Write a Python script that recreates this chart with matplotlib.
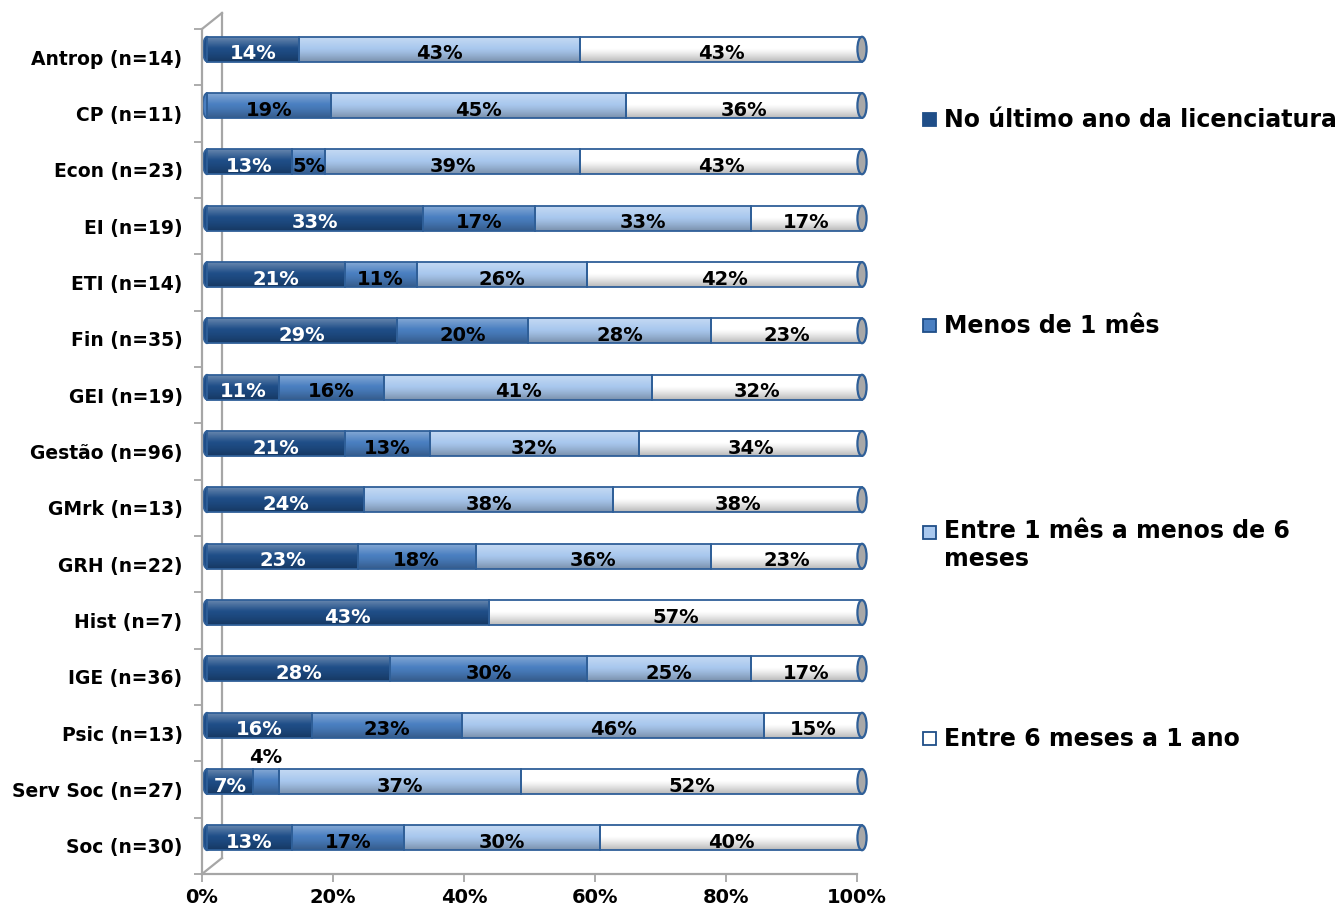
import numpy as np
import matplotlib
matplotlib.use("Agg")
import matplotlib.pyplot as plt
from matplotlib.patches import Rectangle, Ellipse
from matplotlib.lines import Line2D
from matplotlib import transforms

categories = ["Antrop (n=14)", "CP (n=11)", "Econ (n=23)", "EI (n=19)", "ETI (n=14)",
              "Fin (n=35)", "GEI (n=19)", "Gestão (n=96)", "GMrk (n=13)", "GRH (n=22)",
              "Hist (n=7)", "IGE (n=36)", "Psic (n=13)", "Serv Soc (n=27)", "Soc (n=30)"]
series_names = ["No último ano da licenciatura", "Menos de 1 mês",
                "Entre 1 mês a menos de 6\nmeses", "Entre 6 meses a 1 ano"]
ultimo_ano = [14, 0, 13, 33, 21, 29, 11, 21, 24, 23, 43, 28, 16, 7, 13]
menos_1_mes = [0, 19, 5, 17, 11, 20, 16, 13, 0, 18, 0, 30, 23, 4, 17]
entre_1_6 = [43, 45, 39, 33, 26, 28, 41, 32, 38, 36, 0, 25, 46, 37, 30]
entre_6_12 = [43, 36, 43, 17, 42, 23, 32, 34, 38, 23, 57, 17, 15, 52, 40]
xticks = [0, 20, 40, 60, 80, 100]
xtick_labels = ["0%", "20%", "40%", "60%", "80%", "100%"]

colors = ["#1f4e88", "#4a7fc1", "#a9c8ee", "#ffffff"]
label_colors = ["white", "black", "black", "black"]
edge = "#2f5f98"
axis_gray = "#a6a6a6"

plt.rcParams['font.family'] = ['DejaVu Sans']
W, H = 1341, 910
fig = plt.figure(figsize=(W / 100, H / 100), dpi=100)
ax = fig.add_axes([202 / W, 1 - 874 / H, 655 / W, 845 / H])
n = len(categories)
y = np.arange(n)

bar_tr = transforms.offset_copy(ax.transData, fig=fig, x=5, y=8, units='dots')
h = 0.44
data = [ultimo_ano, menos_1_mes, entre_1_6, entre_6_12]
totals = np.sum(np.array(data, float), axis=0)

# gradient image for cylinder shading
tgrad = np.linspace(0, 1, 64)
grad = np.zeros((64, 1, 4))
for j, t in enumerate(tgrad):
    if t < 0.45:
        a = 0.32 * (1 - t / 0.45)
        grad[j, 0] = [1, 1, 1, a]
    else:
        a = 0.28 * ((t - 0.45) / 0.55) ** 1.2
        grad[j, 0] = [0, 0, 0, a]

lab_fs = 14
left = np.zeros(n)
for k, vals in enumerate(data):
    v = np.array(vals, float)
    w = v / totals * 100
    ax.barh(y, w, left=left, height=h, color=colors[k], edgecolor='none',
            transform=bar_tr, zorder=3, clip_on=False)
    ax.barh(y, w, left=left, height=h, color='none', edgecolor=edge,
            linewidth=1.3, transform=bar_tr, zorder=5, clip_on=False)
    for i in range(n):
        if v[i] <= 0:
            continue
        cx = left[i] + w[i] / 2
        if v[i] < 5:
            ax.text(cx, y[i] - 0.43, f"{v[i]:.0f}%", transform=bar_tr, ha='center',
                    va='center', fontsize=lab_fs, fontweight='bold', color='black', zorder=7)
        else:
            ax.text(cx, y[i] + 0.08, f"{v[i]:.0f}%", transform=bar_tr, ha='center',
                    va='center', fontsize=lab_fs, fontweight='bold', color=label_colors[k],
                    zorder=7)
    left += w

for i in range(n):
    clip = Rectangle((0, y[i] - h / 2), 100, h, transform=bar_tr, facecolor='none',
                     edgecolor='none')
    ax.add_patch(clip)
    im = ax.imshow(grad, extent=(0, 100, y[i] + h / 2, y[i] - h / 2), aspect='auto',
                   transform=bar_tr, zorder=4, interpolation='bilinear')
    im.set_clip_path(clip)
    first = next(k for k in range(4) if data[k][i] > 0)
    ax.add_patch(Ellipse((0, y[i]), 1.3, h, transform=bar_tr, facecolor=colors[first],
                         edgecolor=edge, linewidth=1.3, zorder=2, clip_on=False))
    ax.add_patch(Ellipse((100, y[i]), 1.4, h, transform=bar_tr, facecolor="#a8a8a8",
                         edgecolor=edge, linewidth=1.6, zorder=6, clip_on=False))

ax.set_xlim(0, 100)
ax.set_ylim(n - 0.5, -0.5)
ax.set_facecolor('none')

for s in ['top', 'right']:
    ax.spines[s].set_visible(False)
for s in ['left', 'bottom']:
    ax.spines[s].set_color(axis_gray)
    ax.spines[s].set_linewidth(1.6)

ax.set_yticks(y)
ax.set_yticklabels(categories, fontsize=13.5, fontweight='bold')
ax.set_yticks(np.arange(-0.5, n, 1), minor=True)
ax.tick_params(axis='y', which='major', length=0, pad=14)
ax.tick_params(axis='y', which='minor', length=6, color=axis_gray, width=1.3)
ax.set_xticks(xticks)
ax.set_xticklabels(xtick_labels, fontsize=14, fontweight='bold')
ax.tick_params(axis='x', length=6, color=axis_gray, width=1.3, pad=4)

# 3D back wall lines
back_tr = transforms.offset_copy(ax.transAxes, fig=fig, x=20, y=16, units='dots')
ax.plot([0, 0], [0, 1], transform=back_tr, color=axis_gray, lw=1.6, zorder=1, clip_on=False)
fig.canvas.draw()
p_top = ax.transAxes.transform((0, 1))
p_bot = ax.transAxes.transform((0, 0))
for p in (p_top, p_bot):
    ax.add_line(Line2D([p[0], p[0] + 20], [p[1], p[1] + 16],
                       transform=transforms.IdentityTransform(),
                       color=axis_gray, lw=1.6, zorder=1, clip_on=False))

# legend
leg_fs = 17
leg_y = [120, 326, 533, 739]
for k in range(4):
    yy = 1 - leg_y[k] / H
    fig.add_artist(Rectangle((923 / W, yy - 6 / H), 13 / W, 13 / H, transform=fig.transFigure,
                             facecolor=colors[k], edgecolor="#1f4e88", linewidth=1.3))
    if '\n' in series_names[k]:
        fig.text(944 / W, yy + 14 / H, series_names[k], ha='left', va='top', fontsize=leg_fs,
                 fontweight='bold', linespacing=1.2)
    else:
        fig.text(944 / W, yy, series_names[k], ha='left', va='center', fontsize=leg_fs,
                 fontweight='bold')

fig.savefig("out.png", dpi=100)
